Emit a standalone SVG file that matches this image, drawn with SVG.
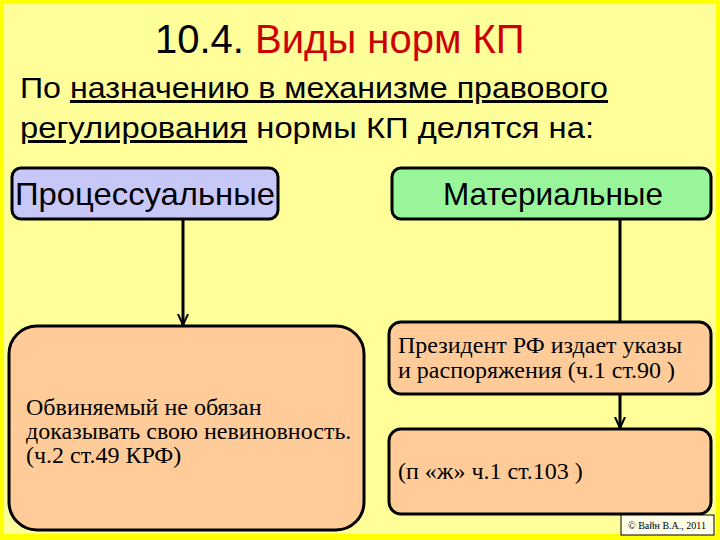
<svg xmlns="http://www.w3.org/2000/svg" width="720" height="540" viewBox="0 0 720 540">
<style>
.b{stroke:#000;stroke-width:3}
.s{font-family:"Liberation Sans",Arial,sans-serif;fill:#000}
.r{font-family:"Liberation Serif","Times New Roman",serif;font-size:24px;fill:#000}
.c{stroke:#000;stroke-width:3;fill:none}
</style>
<defs><marker id="a" markerWidth="14" markerHeight="12" refX="11" refY="6" orient="auto" markerUnits="userSpaceOnUse"><path d="M0,1 L11,6 L0,11" fill="none" stroke="#000" stroke-width="2"/></marker></defs>
<rect x="0" y="0" width="720" height="540" fill="#FFFF00"/>
<rect x="4" y="4" width="712" height="530" fill="#FFFF99"/>
<text x="155" y="53" class="s" font-size="40">10.4. <tspan fill="#CC0000">Виды норм КП</tspan></text>
<text x="20" y="98" class="s" font-size="30" textLength="588" lengthAdjust="spacingAndGlyphs">По <tspan text-decoration="underline">назначению в механизме правового</tspan></text>
<text x="20" y="138" class="s" font-size="30" textLength="574" lengthAdjust="spacingAndGlyphs"><tspan text-decoration="underline">регулирования</tspan> нормы КП делятся на:</text>
<g id="n1"><rect class="b" x="12" y="168" width="266" height="51" rx="9" fill="#C8C8F8"/><text x="145" y="205" text-anchor="middle" class="s" font-size="32" textLength="260" lengthAdjust="spacingAndGlyphs">Процессуальные</text></g>
<g id="n2"><rect class="b" x="392" y="168" width="319" height="51" rx="9" fill="#99F599"/><text x="553" y="205" text-anchor="middle" class="s" font-size="32" textLength="220" lengthAdjust="spacingAndGlyphs">Материальные</text></g>
<g id="n3"><rect class="b" x="9" y="326" width="355" height="204" rx="28" fill="#FFCC99"/><text class="r" x="26" y="415">Обвиняемый не обязан</text><text class="r" x="26" y="439">доказывать свою невиновность.</text><text class="r" x="26" y="463">(ч.2 ст.49 КРФ)</text></g>
<g id="n4"><rect class="b" x="389" y="322" width="322" height="72" rx="12" fill="#FFCC99"/><text class="r" x="398" y="353">Президент РФ издает указы</text><text class="r" x="398" y="378">и распоряжения (ч.1 ст.90 )</text></g>
<g id="n5"><rect class="b" x="389" y="429" width="322" height="85" rx="12" fill="#FFCC99"/><text class="r" x="398" y="479">(п «ж» ч.1 ст.103 )</text></g>
<g id="edges">
<line class="c" x1="183" y1="219" x2="183" y2="325" marker-end="url(#a)"/>
<line class="c" x1="620" y1="219" x2="620" y2="322"/>
<line class="c" x1="620" y1="394" x2="620" y2="428" marker-end="url(#a)"/>
</g>
<rect x="621" y="515" width="93" height="20" fill="#FFFFE8" stroke="#000" stroke-width="1"/>
<text x="667" y="529" text-anchor="middle" font-family="Liberation Serif,serif" font-size="10">© Вайн В.А., 2011</text>
</svg>
